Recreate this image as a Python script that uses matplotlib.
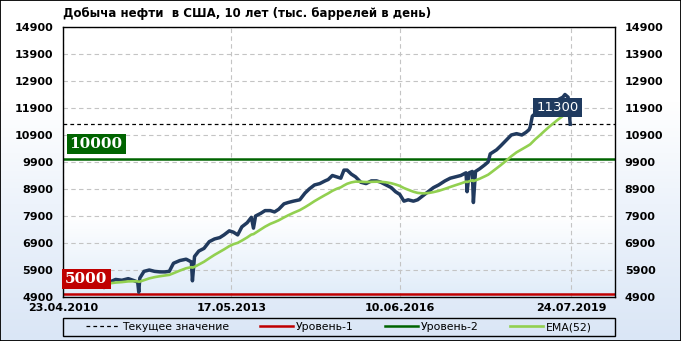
import numpy as np
import pandas as pd
import matplotlib
matplotlib.use("Agg")
import matplotlib.pyplot as plt
from matplotlib.patches import Rectangle
from matplotlib.colors import LinearSegmentedColormap

# ---------------- data ----------------
dates = [
    "2010-04-23", "2010-06-04", "2010-07-16", "2010-08-27", "2010-10-08", "2010-11-19",
    "2010-12-31", "2011-01-21", "2011-02-25", "2011-04-08", "2011-05-20", "2011-07-01",
    "2011-08-12", "2011-09-02", "2011-09-09", "2011-09-16", "2011-10-14", "2011-11-18",
    "2011-12-23", "2012-01-27", "2012-03-02", "2012-03-30", "2012-04-27", "2012-06-08",
    "2012-07-20", "2012-08-24", "2012-08-31", "2012-09-14", "2012-10-12", "2012-11-16",
    "2012-12-21", "2013-01-25", "2013-03-01", "2013-03-29", "2013-05-03", "2013-05-31",
    "2013-06-28", "2013-07-26", "2013-08-30", "2013-09-27", "2013-10-11", "2013-10-25",
    "2013-11-29", "2013-12-27", "2014-01-31", "2014-02-28", "2014-03-28", "2014-05-02",
    "2014-05-30", "2014-07-04", "2014-08-15", "2014-09-19", "2014-10-17", "2014-11-21",
    "2014-12-26", "2015-01-30", "2015-02-20", "2015-03-20", "2015-04-17", "2015-05-15",
    "2015-06-05", "2015-06-26", "2015-07-24", "2015-08-21", "2015-09-25", "2015-10-30",
    "2015-12-04", "2016-01-08", "2016-02-05", "2016-03-11", "2016-04-15", "2016-05-13",
    "2016-06-10", "2016-07-08", "2016-08-05", "2016-09-09", "2016-10-07", "2016-11-11",
    "2016-12-16", "2017-01-20", "2017-02-24", "2017-04-07", "2017-05-12", "2017-06-16",
    "2017-07-21", "2017-08-25", "2017-09-01", "2017-09-15", "2017-10-06", "2017-10-13",
    "2017-10-27", "2017-11-24", "2017-12-29", "2018-01-19", "2018-02-02", "2018-03-16",
    "2018-04-13", "2018-05-18", "2018-06-22", "2018-07-27", "2018-08-31", "2018-09-28",
    "2018-10-19", "2018-10-26", "2018-11-09", "2018-11-30", "2018-12-28", "2019-01-25",
    "2019-02-22", "2019-03-22", "2019-04-26", "2019-05-31", "2019-06-14", "2019-07-05",
    "2019-07-19",
]
production = [
    5430, 5420, 5450, 5400, 5450, 5480,
    5300, 5250, 5450, 5550, 5520, 5580,
    5500, 5450, 5080, 5600, 5850, 5900,
    5850, 5830, 5830, 5850, 6150, 6250,
    6300, 6200, 5500, 6400, 6600, 6700,
    6950, 7050, 7100, 7200, 7350, 7300,
    7200, 7500, 7650, 7850, 7450, 7900,
    8000, 8100, 8100, 8050, 8150, 8350,
    8400, 8450, 8500, 8750, 8900, 9050,
    9100, 9200, 9250, 9400, 9350, 9300,
    9600, 9600, 9450, 9350, 9150, 9100,
    9200, 9200, 9150, 9050, 8950, 8800,
    8700, 8450, 8500, 8450, 8500, 8650,
    8800, 8950, 9050, 9200, 9300, 9350,
    9400, 9500, 8800, 9500, 9550, 8400,
    9550, 9650, 9800, 9900, 10200, 10350,
    10500, 10700, 10900, 10950, 10900, 11000,
    11100, 11200, 11600, 11700, 11700, 11900,
    12000, 12100, 12200, 12300, 12400, 12300,
    11300,
]
level_1 = 5000
level_2 = 10000
ema_span = 52
y_ticks = [4900, 5900, 6900, 7900, 8900, 9900, 10900, 11900, 12900, 13900, 14900]
x_tick_dates = ["2010-04-23", "2013-05-17", "2016-06-10", "2019-07-24"]
x_start, x_end = "2010-04-23", "2020-05-12"
title = "Добыча нефти  в США, 10 лет (тыс. баррелей в день)"
legend_labels = ["Текущее значение", "Уровень-1", "Уровень-2", "EMA(52)"]

# ---------------- derived ----------------
t = pd.to_datetime(dates)
vals = np.array(production, dtype=float)
alpha = 2.0 / (ema_span + 1)
ema = np.empty_like(vals)
ema[0] = vals[0]
for i in range(1, len(vals)):
    gap_w = (t[i] - t[i - 1]).days / 7.0
    a = 1 - (1 - alpha) ** gap_w
    ema[i] = ema[i - 1] + a * (vals[i] - ema[i - 1])
current = vals[-1]

# ---------------- figure ----------------
W, H = 681, 341
fig = plt.figure(figsize=(W / 100, H / 100), dpi=100)

grad = np.linspace(0, 1, 256).reshape(-1, 1)
bg = fig.add_axes([0, 0, 1, 1], zorder=-10)
cmap_bg = LinearSegmentedColormap.from_list(
    "bg", [(0, "#dae6f6"), (0.4, "#edf3fb"), (0.7, "#ffffff"), (1, "#ffffff")])
bg.imshow(grad, aspect="auto", cmap=cmap_bg, origin="lower", extent=[0, 1, 0, 1])
bg.set_axis_off()

L, R, T, B = 63, 615, 27, 297
ax = fig.add_axes([L / W, 1 - B / H, (R - L) / W, (B - T) / H])
ax.set_facecolor("none")
cmap_ax = LinearSegmentedColormap.from_list(
    "ax", [(0, "#e0ecf9"), (0.3, "#ffffff"), (1, "#ffffff")])
ax.imshow(grad, aspect="auto", cmap=cmap_ax, origin="lower", extent=[0, 1, 0, 1],
          transform=ax.transAxes, zorder=0)

# grid
for yv in y_ticks:
    ax.axhline(yv, color="#c4c4c4", lw=0.8, ls=(0, (4, 3)), zorder=1)
for xd in x_tick_dates:
    ax.axvline(pd.Timestamp(xd), color="#c4c4c4", lw=0.8, ls=(0, (4, 3)), zorder=1)

h_cur = ax.axhline(current, color="black", lw=0.9, ls=(0, (3, 2.5)), zorder=2)
h_l1 = ax.axhline(level_1, color="#c00000", lw=1.8, zorder=2)
h_l2 = ax.axhline(level_2, color="#006400", lw=1.8, zorder=2)
ax.plot(t, vals, color="#213a5e", lw=2.5, zorder=3, solid_joinstyle="round")
h_ema, = ax.plot(t, ema, color="#92d050", lw=1.9, zorder=4)

ax.set_ylim(y_ticks[0], y_ticks[-1])
ax.set_xlim(pd.Timestamp(x_start), pd.Timestamp(x_end))
ax.set_yticks(y_ticks)
ax.set_yticklabels([str(v) for v in y_ticks])
ax.set_xticks(pd.to_datetime(x_tick_dates))
ax.set_xticklabels([pd.Timestamp(d).strftime("%d.%m.%Y") for d in x_tick_dates])
ax.tick_params(axis="y", length=0, pad=7, labelsize=8, labelright=True)
ax.tick_params(axis="x", length=0, pad=4.5, labelsize=8)
for lab in ax.get_xticklabels() + ax.get_yticklabels():
    lab.set_fontweight("bold")
for tk in ax.yaxis.get_major_ticks():
    tk.label2.set_fontweight("bold")
for s in ax.spines.values():
    s.set_color("black")
    s.set_linewidth(1.0)

# level labels
ax.annotate(str(level_2), xy=(0.012, level_2), xycoords=("axes fraction", "data"),
            xytext=(0, 11), textcoords="offset points", ha="left", va="center",
            color="white", fontsize=11, fontweight="bold", family="DejaVu Serif",
            bbox=dict(boxstyle="square,pad=0.2", fc="#006400", ec="none"), zorder=6)
ax.annotate(str(level_1), xy=(0.004, level_1), xycoords=("axes fraction", "data"),
            xytext=(0, 11), textcoords="offset points", ha="left", va="center",
            color="white", fontsize=11, fontweight="bold", family="DejaVu Serif",
            bbox=dict(boxstyle="square,pad=0.2", fc="#c00000", ec="none"), zorder=6)
ax.annotate(f"{int(current)}", xy=(t[-1], current), xycoords="data",
            xytext=(-9, 12), textcoords="offset points", ha="center", va="center",
            color="white", fontsize=9.5,
            bbox=dict(boxstyle="square,pad=0.25", fc="#1f3a5f", ec="none"), zorder=6)

fig.text(L / W, 1 - 14 / H, title, ha="left", va="center", fontsize=8.5,
         fontweight="bold")

# legend (centered entries inside a full-width frame)
leg = fig.legend([h_cur, h_l1, h_l2, h_ema], legend_labels,
                 loc="center", bbox_to_anchor=((L + R) / 2 / W, 1 - 327 / H),
                 ncol=4, fontsize=7.8, frameon=False,
                 handlelength=3.0, handletextpad=0.3, columnspacing=2.9,
                 borderaxespad=0)
fig.patches.append(Rectangle((L / W, 1 - 336 / H), (R - L) / W, 18 / H,
                             transform=fig.transFigure, fill=False,
                             edgecolor="black", lw=1.0))

fig.patches.append(Rectangle((0, 0), 1, 1, transform=fig.transFigure, fill=False,
                             edgecolor="black", lw=1.3))

fig.savefig("out.png", dpi=100)
